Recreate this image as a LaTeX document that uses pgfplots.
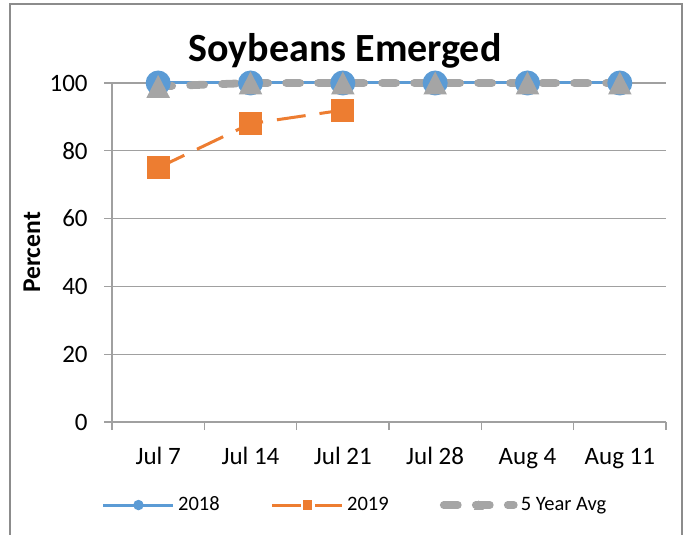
\documentclass[border=0pt]{standalone}
\usepackage{pgfplots}
\pgfplotsset{compat=1.18}
\usepackage{fontspec}
\setmainfont{Carlito}
\definecolor{xlblue}{HTML}{5B9BD5}
\definecolor{xlorange}{HTML}{ED7D31}
\definecolor{xlgray}{HTML}{A5A5A5}
\definecolor{gridgray}{HTML}{A0A0A0}
\definecolor{bordergray}{HTML}{8C8C8C}
\pgfdeclareplotmark{xltri}{%
 \pgfpathmoveto{\pgfqpoint{0pt}{5.75pt}}%
 \pgfpathlineto{\pgfqpoint{-5.9pt}{-5.75pt}}%
 \pgfpathlineto{\pgfqpoint{5.9pt}{-5.75pt}}%
 \pgfpathclose\pgfusepathqfill}
\pgfdeclareplotmark{xlsq}{%
 \pgfpathrectangle{\pgfqpoint{-5.75pt}{-5.75pt}}{\pgfqpoint{11.5pt}{11.5pt}}%
 \pgfusepathqfill}
\pgfdeclareplotmark{xlcirc}{%
 \pgfpathcircle{\pgfpointorigin}{6.25pt}%
 \pgfusepathqfill}
\begin{document}
\begin{tikzpicture}[x=1pt,y=1pt]
\useasboundingbox (0,0) rectangle (344,267);
\draw[bordergray, line width=1pt] (4.75,-10) rectangle (341,265);
\begin{axis}[
 at={(56pt,56pt)}, anchor=south west,
 scale only axis, width=277pt, height=169.5pt,
 xmin=-0.5, xmax=5.5, ymin=0, ymax=100,
 clip=false,
 axis x line*=bottom, axis y line*=left,
 axis line style={gridgray, line width=0.6pt, -},
 xtick={-0.5,0.5,...,5.5}, xticklabels={,,,,,,},
 extra x ticks={0,1,2,3,4,5},
 extra x tick labels={Jul 7,Jul 14,Jul 21,Jul 28,Aug 4,Aug 11},
 extra x tick style={major tick length=0pt},
 ytick={0,20,...,100},
 tick align=outside, major tick length=4pt,
 tick style={gridgray, line width=0.6pt},
 ymajorgrids, grid style={gridgray, line width=0.6pt},
 /pgf/number format/assume math mode=true,
 x tick label style={font=\fontsize{12.5}{15}\selectfont, anchor=base, yshift=-21pt},
 y tick label style={font=\fontsize{12.5}{15}\selectfont, anchor=east, inner sep=0pt, xshift=-8pt},
 ylabel={Percent},
 every axis y label/.style={at={(rel axis cs:0,0.5)}, xshift=-36pt, rotate=90, anchor=base, font=\bfseries\fontsize{12.8}{15}\selectfont},
 legend columns=3,
 legend style={at={(rel axis cs:0.44,-0.245)}, anchor=center, draw=none, fill=none,
   font=\fontsize{10.25}{12}\selectfont, inner sep=0pt,
   nodes={inner sep=1.6pt},
   /tikz/every even column/.append style={column sep=24pt}},
 legend image code/.code={\draw[mark repeat=2,mark phase=2,#1,mark options={solid,scale=0.42}] plot coordinates {(0pt,0pt) (17.5pt,0pt) (35pt,0pt)};},
]
\addplot[color=xlblue, line width=1.5pt, mark=xlcirc, mark options={solid}]
 coordinates {(0,100) (1,100) (2,100) (3,100) (4,100) (5,100)};
\addplot[color=xlorange, line width=1.5pt, dash pattern=on 14.5pt off 7pt, mark=xlsq, mark options={solid}]
 coordinates {(0,75) (1,88) (2,92)};
\addplot[color=xlgray, line width=3.9pt, line cap=round, dash pattern=on 7pt off 9pt, mark=xltri, mark options={solid}]
 coordinates {(0,99) (1,100) (2,100) (3,100) (4,100) (5,100)};
\legend{2018,2019,5 Year Avg}
\end{axis}
\node[anchor=base, font=\bfseries\fontsize{20}{24}\selectfont] at (172.5,236) {Soybeans Emerged};
\end{tikzpicture}
\end{document}
